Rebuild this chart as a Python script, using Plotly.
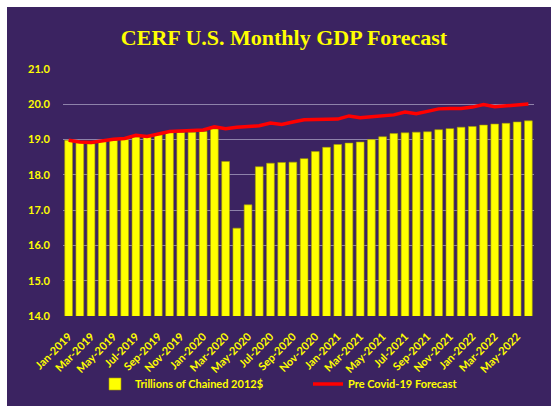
import plotly.graph_objects as go

months = ["Jan-2019","Feb-2019","Mar-2019","Apr-2019","May-2019","Jun-2019","Jul-2019","Aug-2019",
          "Sep-2019","Oct-2019","Nov-2019","Dec-2019","Jan-2020","Feb-2020","Mar-2020","Apr-2020",
          "May-2020","Jun-2020","Jul-2020","Aug-2020","Sep-2020","Oct-2020","Nov-2020","Dec-2020",
          "Jan-2021","Feb-2021","Mar-2021","Apr-2021","May-2021","Jun-2021","Jul-2021","Aug-2021",
          "Sep-2021","Oct-2021","Nov-2021","Dec-2021","Jan-2022","Feb-2022","Mar-2022","Apr-2022",
          "May-2022","Jun-2022"]

gdp = [18.98, 18.91, 18.88, 18.95, 18.98, 19.00, 19.07, 19.07, 19.13, 19.20, 19.20, 19.21,
       19.23, 19.30, 18.38, 16.49, 17.15, 18.23, 18.33, 18.35, 18.36, 18.46, 18.66, 18.78,
       18.86, 18.90, 18.93, 19.00, 19.08, 19.17, 19.19, 19.21, 19.22, 19.28, 19.31, 19.35,
       19.37, 19.41, 19.44, 19.46, 19.50, 19.53]

pre_covid = [18.98, 18.93, 18.92, 18.97, 19.01, 19.03, 19.12, 19.09, 19.17, 19.23, 19.24, 19.25,
             19.27, 19.36, 19.31, 19.35, 19.38, 19.39, 19.47, 19.43, 19.50, 19.56, 19.57, 19.57,
             19.58, 19.67, 19.62, 19.65, 19.68, 19.70, 19.78, 19.73, 19.80, 19.87, 19.88, 19.88,
             19.92, 19.99, 19.93, 19.96, 19.99, 20.01]

tick_labels = months[::2]
y_ticks = [14, 15, 16, 17, 18, 19, 20, 21]

title_text = "CERF U.S. Monthly GDP Forecast"
bar_name = "Trillions of Chained 2012$"
line_name = "Pre Covid-19 Forecast"

PURPLE = "#3B2361"
YELLOW = "#FFFF00"
W, H = 551, 406
L, R, T, B = 63, 17, 69, 90
pw = W - L - R
ph = H - T - B

legend_font = dict(family="Lato", size=11, color=YELLOW, weight="bold")

fig = go.Figure()
fig.add_trace(go.Bar(x=months, y=gdp, name=bar_name, legend="legend",
                     marker=dict(color=YELLOW, line=dict(color="#A8A000", width=0.6))))
fig.add_trace(go.Scatter(x=months, y=pre_covid, name=line_name, mode="lines", legend="legend2",
                         line=dict(color="#FF0000", width=3.5)))

fig.add_shape(type="rect", xref="paper", yref="paper", layer="below",
              x0=(7 - L) / pw, x1=(W - L + 5) / pw,
              y0=-(B + 5) / ph, y1=(ph + T - 7) / ph,
              fillcolor=PURPLE, line=dict(width=0))

fig.update_layout(
    width=W, height=H,
    margin=dict(l=L, r=R, t=T, b=B, autoexpand=False),
    paper_bgcolor="white",
    plot_bgcolor="rgba(0,0,0,0)",
    bargap=0.31,
    showlegend=True,
    title=dict(text=title_text, x=284 / W, xanchor="center", y=1 - 37 / H, yanchor="middle",
               font=dict(family="Liberation Serif", size=22, color=YELLOW, weight="bold")),
    legend=dict(orientation="h", x=(95 - L) / pw, xanchor="left",
                y=-(384 - T - ph) / ph, yanchor="middle",
                font=legend_font, bgcolor="rgba(0,0,0,0)", itemwidth=30),
    legend2=dict(orientation="h", x=(308 - L) / pw, xanchor="left",
                 y=-(384 - T - ph) / ph, yanchor="middle",
                 font=legend_font, bgcolor="rgba(0,0,0,0)", itemwidth=30),
    xaxis=dict(type="category", tickvals=tick_labels, ticktext=tick_labels, tickangle=-45,
               tickfont=dict(family="Lato", size=11, color=YELLOW, weight="bold"),
               showgrid=False, showline=False, ticks="outside", ticklen=9,
               tickcolor="rgba(0,0,0,0)", range=[-0.5, len(months) - 0.5], automargin=False),
    yaxis=dict(range=[14, 21], tickvals=y_ticks, tickformat=".1f",
               tickfont=dict(family="Lato", size=11, color=YELLOW, weight="bold"),
               showgrid=True, gridcolor="#8E82AA", gridwidth=1, zeroline=False,
               ticks="outside", ticklen=10, tickcolor="rgba(0,0,0,0)", automargin=False),
)

fig.write_html("out.html", config={"displayModeBar": False},
               post_script="document.body.style.margin='0';")
